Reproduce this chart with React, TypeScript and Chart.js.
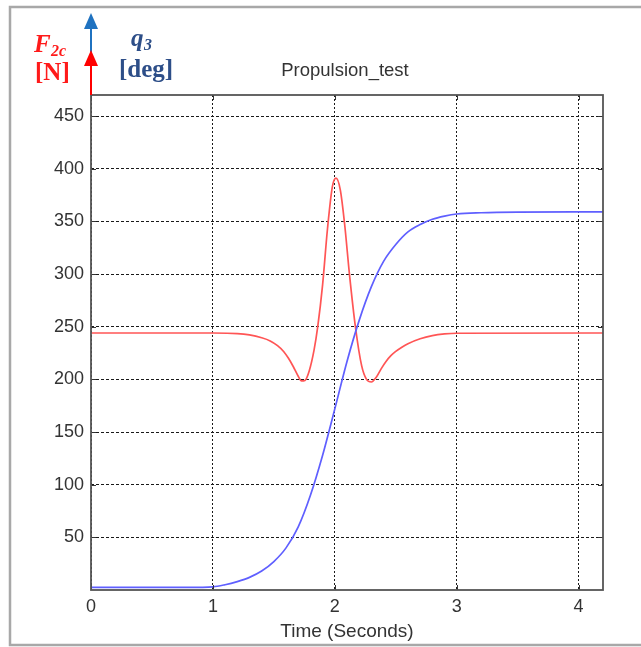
import React, { useEffect, useRef } from "react";
import { Chart, registerables } from "chart.js";

Chart.register(...registerables);

// F2c [N] — red curve
const forceTimes = [0, 1.0, 1.2, 1.3, 1.4, 1.47, 1.53, 1.58, 1.62, 1.66, 1.7, 1.727, 1.755, 1.79, 1.83, 1.86, 1.9, 1.94, 1.98, 2.01, 2.045, 2.08, 2.12, 2.17, 2.22, 2.26, 2.3, 2.34, 2.38, 2.42, 2.46, 2.5, 2.55, 2.6, 2.7, 2.8, 2.9, 3.0, 4.2];
const forceValues = [244, 244, 243.5, 242.2, 239.5, 236.5, 232, 226.5, 220, 212, 203, 198.5, 199, 208, 228, 250, 290, 343, 383, 391, 380, 348, 300, 249, 213, 200, 197.5, 202, 210, 217, 222.5, 226.5, 230.5, 233.8, 238.5, 241.5, 243.1, 243.8, 244];

// q3 [deg] — blue curve
const angleTimes = [0, 0.8, 1.0, 1.1, 1.2, 1.3, 1.4, 1.5, 1.6, 1.7, 1.8, 1.9, 2.0, 2.1, 2.2, 2.3, 2.4, 2.5, 2.6, 2.7, 2.8, 2.9, 3.0, 3.2, 3.5, 4.2];
const angleValues = [2.5, 2.5, 3, 5, 8, 12, 18, 27, 40, 60, 90, 128, 172, 217, 256, 288, 312, 328, 340, 347, 352, 355, 357, 358.2, 358.8, 359];

const xTickValues = [0, 1, 2, 3, 4];
const yTickValues = [50, 100, 150, 200, 250, 300, 350, 400, 450];

const titleText = "Propulsion_test";
const xAxisTitle = "Time (Seconds)";

const zip = (xs: number[], ys: number[]) => xs.map((x, i) => ({ x, y: ys[i] }));

const decorPlugin = {
  id: "decor",
  beforeDraw(chart: any) {
    const { ctx, width, height } = chart;
    ctx.save();
    ctx.fillStyle = "#ffffff";
    ctx.fillRect(0, 0, width, height);
    ctx.restore();
  },
  afterDraw(chart: any) {
    const { ctx, chartArea } = chart;
    const { left, right, top, bottom } = chartArea;
    const xs = chart.scales.x;
    const ys = chart.scales.y;
    ctx.save();

    // inside tick marks
    ctx.strokeStyle = "#333";
    ctx.lineWidth = 1;
    ctx.beginPath();
    xTickValues.forEach((v) => {
      const px = Math.round(xs.getPixelForValue(v)) + 0.5;
      ctx.moveTo(px, bottom);
      ctx.lineTo(px, bottom - 5);
      ctx.moveTo(px, top);
      ctx.lineTo(px, top + 5);
    });
    yTickValues.forEach((v) => {
      const py = Math.round(ys.getPixelForValue(v)) + 0.5;
      ctx.moveTo(left, py);
      ctx.lineTo(left + 5, py);
      ctx.moveTo(right, py);
      ctx.lineTo(right - 5, py);
    });
    ctx.stroke();

    // plot box
    ctx.strokeStyle = "#555";
    ctx.lineWidth = 1.8;
    ctx.strokeRect(left, top, right - left, bottom - top);

    // outer frame
    ctx.strokeStyle = "#a8a8a8";
    ctx.lineWidth = 2.5;
    ctx.beginPath();
    ctx.moveTo(641, 7);
    ctx.lineTo(10, 7);
    ctx.lineTo(10, 645);
    ctx.lineTo(641, 645);
    ctx.stroke();

    // title
    ctx.fillStyle = "#333";
    ctx.font = "18.5px 'Liberation Sans', Arial, sans-serif";
    ctx.textAlign = "center";
    ctx.textBaseline = "alphabetic";
    ctx.fillText(titleText, 345, 76);

    // arrows
    const ax = left;
    ctx.lineWidth = 2;
    ctx.strokeStyle = "#1f72c0";
    ctx.fillStyle = "#1f72c0";
    ctx.beginPath();
    ctx.moveTo(ax, 52);
    ctx.lineTo(ax, 27);
    ctx.stroke();
    ctx.beginPath();
    ctx.moveTo(ax, 13);
    ctx.lineTo(ax - 7, 29);
    ctx.lineTo(ax + 7, 29);
    ctx.closePath();
    ctx.fill();

    ctx.strokeStyle = "#ff0000";
    ctx.fillStyle = "#ff0000";
    ctx.beginPath();
    ctx.moveTo(ax, top);
    ctx.lineTo(ax, 63);
    ctx.stroke();
    ctx.beginPath();
    ctx.moveTo(ax, 50);
    ctx.lineTo(ax - 7, 66);
    ctx.lineTo(ax + 7, 66);
    ctx.closePath();
    ctx.fill();

    // axis annotations
    ctx.textAlign = "left";
    ctx.fillStyle = "#ff1a1a";
    ctx.font = "italic bold 25px 'Liberation Serif', 'Times New Roman', serif";
    ctx.fillText("F", 34, 52);
    ctx.font = "italic bold 16px 'Liberation Serif', 'Times New Roman', serif";
    ctx.fillText("2c", 51, 56);
    ctx.font = "bold 25px 'Liberation Serif', 'Times New Roman', serif";
    ctx.fillText("[N]", 35, 80);

    ctx.fillStyle = "#2d4e88";
    ctx.font = "italic bold 25px 'Liberation Serif', 'Times New Roman', serif";
    ctx.fillText("q", 131, 46);
    ctx.font = "italic bold 16px 'Liberation Serif', 'Times New Roman', serif";
    ctx.fillText("3", 144, 50);
    ctx.font = "bold 25px 'Liberation Serif', 'Times New Roman', serif";
    ctx.fillText("[deg]", 119, 77);

    ctx.restore();
  },
};

export default function App() {
  const canvasRef = useRef<HTMLCanvasElement | null>(null);

  useEffect(() => {
    if (!canvasRef.current) return;
    const chart = new Chart(canvasRef.current, {
      type: "scatter",
      data: {
        datasets: [
          {
            label: "q3",
            data: zip(angleTimes, angleValues),
            showLine: true,
            borderColor: "rgb(95,95,255)",
            borderWidth: 1.7,
            pointRadius: 0,
            cubicInterpolationMode: "monotone",
          },
          {
            label: "F2c",
            data: zip(forceTimes, forceValues),
            showLine: true,
            borderColor: "rgb(255,85,85)",
            borderWidth: 1.7,
            pointRadius: 0,
            cubicInterpolationMode: "monotone",
          },
        ],
      },
      options: {
        animation: false,
        responsive: false,
        layout: { padding: { left: 0, right: 38, top: 95, bottom: 0 } },
        plugins: {
          legend: { display: false },
          tooltip: { enabled: false },
          title: { display: false },
        },
        scales: {
          x: {
            type: "linear",
            min: 0,
            max: 4.2,
            afterBuildTicks: (s: any) => {
              s.ticks = xTickValues.map((v) => ({ value: v }));
            },
            afterFit: (s: any) => {
              s.height = 57;
            },
            ticks: {
              padding: 6,
              color: "#333",
              font: { family: "'Liberation Sans', Arial, sans-serif", size: 18 },
              callback: (v: any) => String(v),
            },
            grid: {
              color: "#1a1a1a",
              lineWidth: 1,
              drawTicks: false,
            },
            border: { display: false, dash: [2, 2] },
            title: {
              display: true,
              text: xAxisTitle,
              color: "#333",
              font: { family: "'Liberation Sans', Arial, sans-serif", size: 19 },
              padding: { top: 0, bottom: 4 },
            },
          },
          y: {
            type: "linear",
            min: 0,
            max: 470,
            afterBuildTicks: (s: any) => {
              s.ticks = yTickValues.map((v) => ({ value: v }));
            },
            afterFit: (s: any) => {
              s.width = 91;
            },
            ticks: {
              padding: 7,
              color: "#333",
              font: { family: "'Liberation Sans', Arial, sans-serif", size: 18 },
              callback: (v: any) => String(v),
            },
            grid: {
              color: "#1a1a1a",
              lineWidth: 1,
              drawTicks: false,
            },
            border: { display: false, dash: [3, 2] },
          },
        },
      },
      plugins: [decorPlugin],
    } as any);
    return () => chart.destroy();
  }, []);

  return (
    <div style={{ position: "absolute", left: 0, top: 0, width: 641, height: 647 }}>
      <canvas ref={canvasRef} width={641} height={647} style={{ display: "block" }} />
    </div>
  );
}
